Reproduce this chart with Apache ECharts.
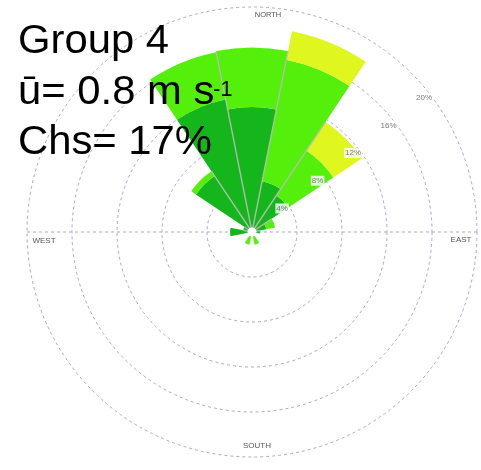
<!DOCTYPE html>
<html>
<head>
<meta charset="utf-8">
<script src="https://cdn.jsdelivr.net/npm/echarts@6/dist/echarts.min.js"></script>
<style>
  html, body { margin: 0; padding: 0; background: #fff; }
  #chart { width: 481px; height: 470px; }
</style>
</head>
<body>
<div id="chart"></div>
<script>
// Wind directions, clockwise from north
const directions = ['N', 'NNE', 'NE', 'ENE', 'E', 'ESE', 'SE', 'SSE',
                    'S', 'SSW', 'SW', 'WSW', 'W', 'WNW', 'NW', 'NNW'];

// Frequency (%) per direction for each wind-speed bin (stacked outward)
const speedLow  = [11.1, 4.6, 3.9, 1.3, 0.7, 0, 0, 0.3, 0, 0.3, 0, 0, 1.95, 0.8, 6.0, 12.0];
const speedMid  = [5.3, 11.0, 4.8, 0.8, 0, 0, 0, 0.85, 0, 0.85, 0, 0, 0, 0, 0.5, 4.3];
const speedHigh = [0, 2.6, 3.05, 0, 0, 0, 0, 0, 0, 0, 0, 0, 0, 0, 0, 0];

// Frequency rings
const ringTicks  = [4, 8, 12, 16, 20];
const ringLabels = ['4%', '8%', '12%', '16%', '20%'];

// Compass labels
const compassLabels = ['NORTH', 'EAST', 'SOUTH', 'WEST'];

const CENTER = [252, 232];
const RADIUS = 225;
const SECTOR = 360 / directions.length;
const GRID_COLOR = '#a9a9c9';
const colors = ['#14b61c', '#55ef0c', '#dff71e'];

const totals = directions.map((d, i) => speedLow[i] + speedMid[i] + speedHigh[i]);
// Separator between sector i-1 and i runs out to the shorter of the two bars
const separators = directions.map((d, i) => {
  const prev = totals[(i + directions.length - 1) % directions.length];
  return [Math.min(prev, totals[i]), i];
});

const chart = echarts.init(document.getElementById('chart'), null, { renderer: 'canvas' });

const dashed = { color: GRID_COLOR, width: 1, type: [3, 3] };

const barSeries = [speedLow, speedMid, speedHigh].map((vals, k) => ({
  type: 'bar',
  coordinateSystem: 'polar',
  polarIndex: 0,
  stack: 'rose',
  barCategoryGap: '0%',
  data: vals,
  itemStyle: { color: colors[k] },
  z: 2,
  silent: true
}));

const bigText = (text, y) => ({
  type: 'text', x: 18, y: y, z: 10, scaleX: 1.045,
  style: { text: text, font: '40px "Liberation Sans"', fill: '#000', textAlign: 'left', textVerticalAlign: 'middle' }
});
const smallText = (text, x, y, size) => ({
  type: 'text', x: x, y: y,
  style: { text: text, font: size + 'px "Liberation Sans"', fill: '#555', textAlign: 'center', textVerticalAlign: 'middle' }
});

chart.setOption({
  animation: false,
  backgroundColor: '#fff',
  polar: [
    { center: CENTER, radius: RADIUS },
    { center: CENTER, radius: RADIUS }
  ],
  angleAxis: [
    {
      polarIndex: 0,
      type: 'category',
      data: directions,
      startAngle: 90 + SECTOR / 2,
      clockwise: true,
      boundaryGap: true,
      axisLine: { show: false },
      axisTick: { show: false },
      axisLabel: { show: false },
      splitLine: { show: false }
    },
    {
      polarIndex: 1,
      type: 'value',
      min: 0, max: 360, interval: 180,
      startAngle: 0,
      clockwise: false,
      axisLine: { show: false },
      axisTick: { show: false },
      axisLabel: { show: false },
      splitLine: { show: true, lineStyle: dashed }
    }
  ],
  radiusAxis: [
    {
      polarIndex: 0,
      type: 'value',
      min: 0, max: 20, interval: 4,
      axisLine: { show: false },
      axisTick: { show: false },
      axisLabel: { show: false },
      splitLine: { show: true, lineStyle: dashed }
    },
    {
      polarIndex: 1,
      type: 'value',
      min: 0, max: 20,
      axisLine: { show: false },
      axisTick: { show: false },
      axisLabel: { show: false },
      splitLine: { show: false }
    }
  ],
  series: barSeries.concat([
    {
      // thin radial separators between neighbouring sectors
      type: 'custom',
      coordinateSystem: 'polar',
      polarIndex: 0,
      silent: true,
      z: 3,
      data: separators,
      renderItem: function (params, api) {
        const len = api.value(0);
        const idx = api.value(1);
        if (!(len > 0)) return null;
        const c = api.coord([0, idx]);
        const p = api.coord([len, idx]);
        const r = Math.hypot(p[0] - c[0], p[1] - c[1]);
        const a = (idx * SECTOR - SECTOR / 2) * Math.PI / 180;
        return {
          type: 'line',
          shape: { x1: c[0], y1: c[1], x2: c[0] + r * Math.sin(a), y2: c[1] - r * Math.cos(a) },
          style: { stroke: 'rgba(185,185,185,0.9)', lineWidth: 1.4 }
        };
      }
    },
    {
      // hollow centre
      type: 'custom',
      coordinateSystem: 'polar',
      polarIndex: 0,
      silent: true,
      z: 4,
      data: [[0, 0]],
      renderItem: function (params, api) {
        const c = api.coord([0, 0]);
        return { type: 'circle', shape: { cx: c[0], cy: c[1], r: 4.5 }, style: { fill: '#fff' } };
      }
    },
    {
      // ring value labels along a diagonal
      type: 'scatter',
      coordinateSystem: 'polar',
      polarIndex: 1,
      symbolSize: 0,
      silent: true,
      z: 5,
      data: ringTicks.map(t => [t - 0.6, 38]),
      label: {
        show: true,
        position: 'inside',
        formatter: p => ringLabels[p.dataIndex],
        fontFamily: 'Liberation Sans',
        fontSize: 8,
        color: '#555',
        backgroundColor: '#fff',
        padding: [1, 1]
      }
    }
  ]),
  graphic: [
    smallText(compassLabels[0], 268, 15, 7.5),
    smallText(compassLabels[1], 461, 240, 8),
    smallText(compassLabels[2], 257, 446, 8),
    smallText(compassLabels[3], 44, 241, 8),
    bigText('Group 4', 42),
    bigText('ū= 0.8 m s', 93),
    { type: 'text', x: 213, y: 90, z: 10,
      style: { text: '-1', font: '22px "Liberation Sans"', fill: '#000', textAlign: 'left', textVerticalAlign: 'middle' } },
    bigText('Chs= 17%', 143)
  ]
});
</script>
</body>
</html>
